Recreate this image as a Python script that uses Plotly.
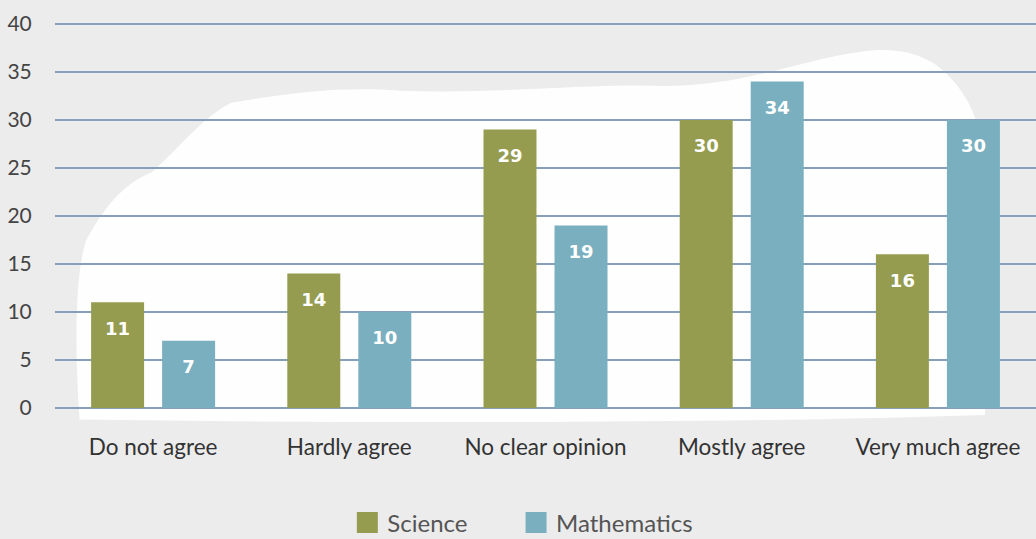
import plotly.graph_objects as go

categories = ["Do not agree", "Hardly agree", "No clear opinion", "Mostly agree", "Very much agree"]
science = [11, 14, 29, 30, 16]
mathematics = [7, 10, 19, 34, 30]
y_ticks = [0, 5, 10, 15, 20, 25, 30, 35, 40]

GREEN = "#969c4f"
BLUE = "#79afbf"
GRID = "#84a0bb"

fig = go.Figure()
for name, vals, col, leg in [("Science", science, GREEN, "legend"), ("Mathematics", mathematics, BLUE, "legend2")]:
    fig.add_trace(go.Bar(
        x=categories, y=vals, name=name, marker=dict(color=col, line=dict(width=0)),
        text=vals, textposition="inside", insidetextanchor="end",
        texttemplate="<span style='font-size:7px'> </span><br><b>%{y}</b>",
        textfont=dict(family="DejaVu Sans", size=18, color="white"),
        textangle=0, cliponaxis=False, showlegend=False, hoverinfo="skip",
    ))
    # legend entry with a larger square swatch
    fig.add_trace(go.Scatter(
        x=[None], y=[None], mode="markers", name=name, hoverinfo="skip", legend=leg,
        marker=dict(symbol="square", size=16, color=col, line=dict(width=5, color=col)),
    ))

# soft white cloud in background
fig.add_shape(type="path", xref="paper", yref="paper", layer="below",
              path=("M 0.025 -0.03 C 0.02 0.15, 0.02 0.35, 0.032 0.434 "
                    "C 0.05 0.52, 0.07 0.58, 0.099 0.61 C 0.13 0.68, 0.15 0.75, 0.179 0.788 "
                    "C 0.25 0.82, 0.3 0.83, 0.352 0.82 C 0.45 0.81, 0.55 0.84, 0.617 0.832 "
                    "C 0.7 0.83, 0.76 0.9, 0.82 0.92 C 0.87 0.94, 0.9 0.9, 0.92 0.832 "
                    "C 0.945 0.75, 0.95 0.65, 0.948 0.537 C 0.95 0.35, 0.95 0.15, 0.948 -0.018 "
                    "C 0.7 -0.04, 0.3 -0.04, 0.025 -0.03 Z"),
              fillcolor="rgba(255,255,255,0.93)", line=dict(width=0))

legend_style = dict(orientation="h", xanchor="left", y=-0.297, yanchor="middle",
                    font=dict(size=24, color="#555555"), itemsizing="trace",
                    bgcolor="rgba(0,0,0,0)")

fig.update_layout(
    width=1036, height=539,
    margin=dict(l=55, r=0, t=21, b=131, autoexpand=False),
    paper_bgcolor="#ececec", plot_bgcolor="rgba(0,0,0,0)",
    barmode="group", bargap=0.276, bargroupgap=0.254,
    font=dict(family="Lato", color="#333333"),
    showlegend=True, hovermode=False,
    legend=dict(x=0.298, **legend_style),
    legend2=dict(x=0.470, **legend_style),
    xaxis=dict(showgrid=False, showline=False, zeroline=False, ticks="outside", ticklen=19,
               tickcolor="rgba(0,0,0,0)", tickfont=dict(size=22.5, color="#333333")),
    yaxis=dict(range=[0, 40.3], tickvals=y_ticks, showgrid=True, gridcolor=GRID, gridwidth=1.6,
               zeroline=True, zerolinecolor=GRID, zerolinewidth=1.8, showline=False,
               ticks="outside", ticklen=18, tickcolor="rgba(0,0,0,0)",
               tickfont=dict(size=21, color="#444444")),
)

fig.write_html("out.html", config={"displayModeBar": False},
               post_script="document.body.style.margin='0px';")
